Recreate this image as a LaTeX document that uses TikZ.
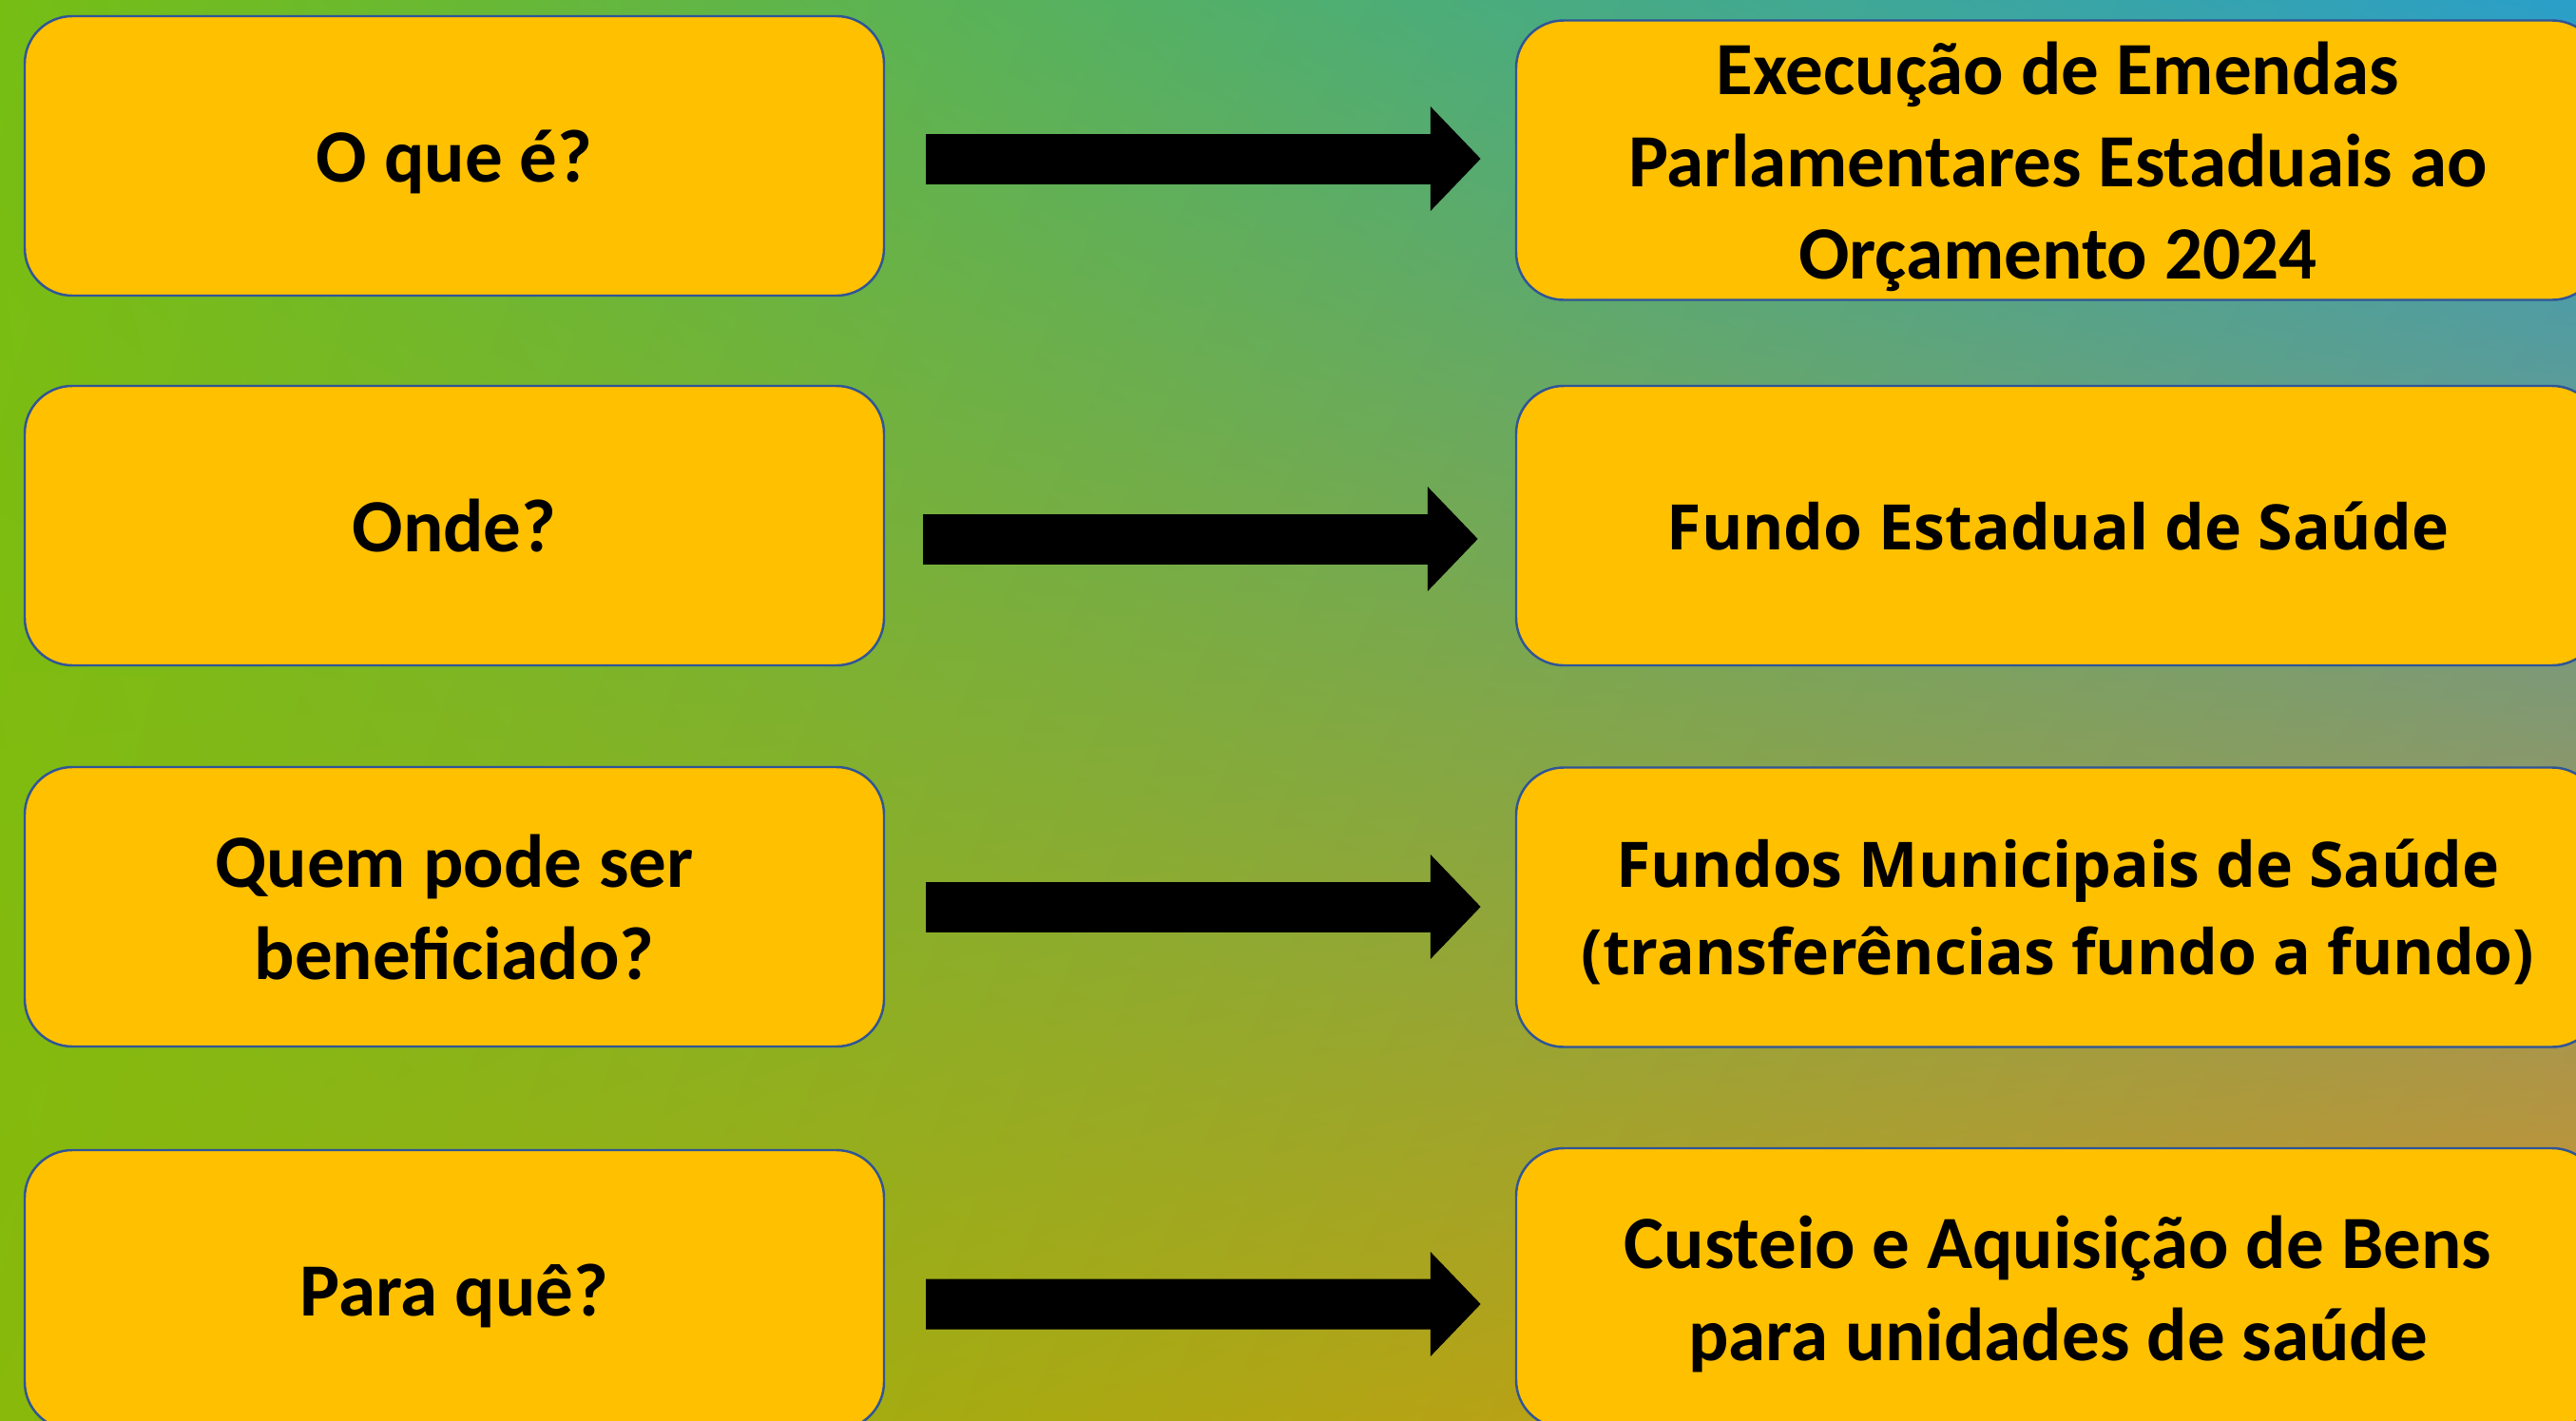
\documentclass[tikz,border=0pt]{standalone}
\usepackage{fontspec}
\setmainfont{Carlito}
\newfontfamily\opensans{Open Sans}
\usepackage{tikz}
\usetikzlibrary{arrows.meta,calc,shadings}

\definecolor{boxgold}{HTML}{FFC000}
\definecolor{boxline}{HTML}{2F5597}
\definecolor{bgul}{HTML}{76BE14}
\definecolor{bgur}{HTML}{2A9FC9}
\definecolor{bgll}{HTML}{88B90B}
\definecolor{bglr}{HTML}{DA921C}

\begin{document}
\begin{tikzpicture}[
    box/.style={rectangle, rounded corners=0.5cm, draw=boxline, line width=0.7pt, fill=boxgold, align=center, minimum height=2.94cm, inner ysep=0pt, text depth=0pt, font=\bfseries\fontsize{22.5}{27.6}\selectfont},
    qbox/.style={box, minimum width=9.04cm},
    abox/.style={box, minimum width=11.4cm},
    wide/.style={font=\opensans\bfseries\fontsize{18.8}{26.2}\selectfont},
    fatarrow/.style={line width=0.53cm, -{Triangle[length=0.53cm, width=1.07cm]}}
]

% Background
\useasboundingbox (0,0) rectangle (27.1,-14.95);
\clip (0,0) rectangle (27.1,-14.95);
\shade[upper left=bgul, upper right=bgur, lower left=bgll, lower right=bglr] (0,0) rectangle (27.1,-14.95);

% Questions
\node[qbox] (q1) at (4.78,-1.64) {O que é?};
\node[qbox] (q2) at (4.78,-5.53) {Onde?};
\node[qbox] (q3) at (4.78,-9.54) {Quem pode ser\\beneficiado?};
\node[qbox] (q4) at (4.78,-13.57) {Para quê?};

% Answers
\node[abox] (a1) at (21.65,-1.685) {Execução de Emendas\\Parlamentares Estaduais ao\\Orçamento 2024};
\node[abox, wide] (a2) at (21.65,-5.53) {Fundo Estadual de Saúde};
\node[abox, wide] (a3) at (21.65,-9.545) {Fundos Municipais de Saúde\\(transferências fundo a fundo)};
\node[abox] (a4) at (21.65,-13.55) {Custeio e Aquisição de Bens\\para unidades de saúde};

% Arrows
\draw[fatarrow] ($(q1.east)+(0.43,-0.03)$) -- ($(a1.west)+(-0.36,0.015)$);
\draw[fatarrow] ($(q2.east)+(0.40,-0.14)$) -- ($(a2.west)+(-0.39,-0.14)$);
\draw[fatarrow] ($(q3.east)+(0.43,0)$) -- ($(a3.west)+(-0.36,0.005)$);
\draw[fatarrow] ($(q4.east)+(0.43,-0.15)$) -- ($(a4.west)+(-0.36,-0.17)$);
\end{tikzpicture}
\end{document}
